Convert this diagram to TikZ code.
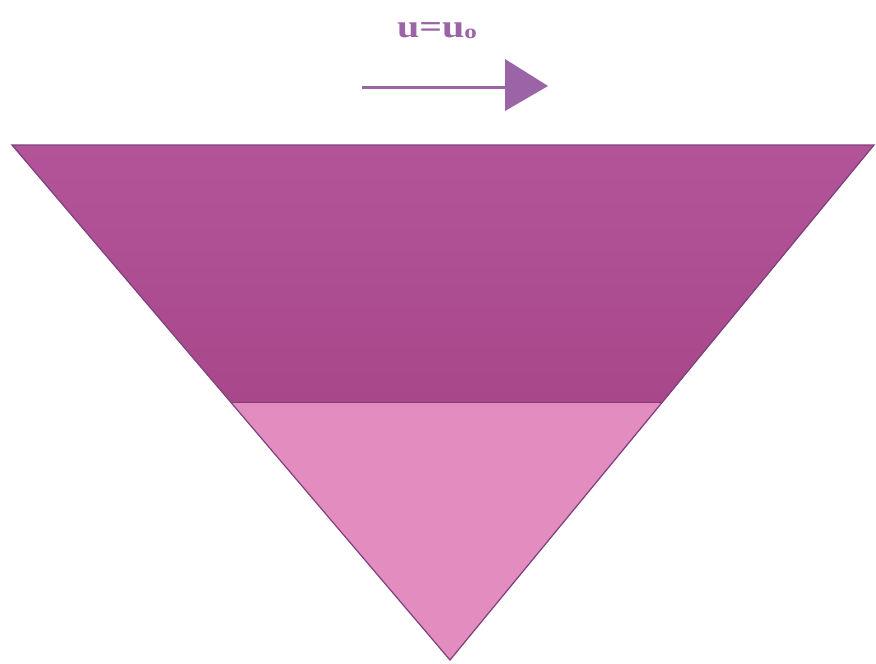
\documentclass[tikz,border=0pt]{standalone}
\usepackage{fontspec}
\setmainfont{Liberation Serif}
\begin{document}
\begin{tikzpicture}[x=1pt,y=-1pt,
  edge/.style={draw=edgepurple,line width=1.2pt,line join=miter},
  lbl/.style={font=\bfseries\fontsize{32}{34}\selectfont,text=arrowpurple,inner sep=0pt,xscale=1.25}]
\definecolor{edgepurple}{HTML}{7E3F7C}
\definecolor{topfill}{HTML}{A8488A}
\definecolor{topfilllight}{HTML}{B3549A}
\definecolor{botfill}{HTML}{E38CC0}
\definecolor{arrowpurple}{HTML}{9A64A6}
\useasboundingbox (0,0) rectangle (876,664);
\fill[white] (0,0) rectangle (876,664);
% coordinates
\coordinate (TL) at (12,145);
\coordinate (TR) at (874,145);
\coordinate (B) at (450,660);
\coordinate (ML) at (231,402);
\coordinate (MR) at (663,402);
% upper band
\shade[top color=topfilllight,bottom color=topfill] (TL) -- (TR) -- (MR) -- (ML) -- cycle;
% lower part
\fill[botfill] (ML) -- (MR) -- (B) -- cycle;
\draw[draw=topfill!80!black,line width=0.8pt] (ML) -- (MR);
\draw[edge] (TL) -- (TR) -- (B) -- cycle;
% arrow
\coordinate (A1) at (362,87);
\coordinate (A2) at (508,87);
\draw[arrowpurple,line width=3pt] (A1) -- (A2);
\fill[arrowpurple] (505,59) -- (548,86) -- (505,111) -- cycle;
\node[lbl] (lab) at (437,31) {u=u\raisebox{-1pt}{\fontsize{20}{22}\selectfont o}};
\end{tikzpicture}
\end{document}
